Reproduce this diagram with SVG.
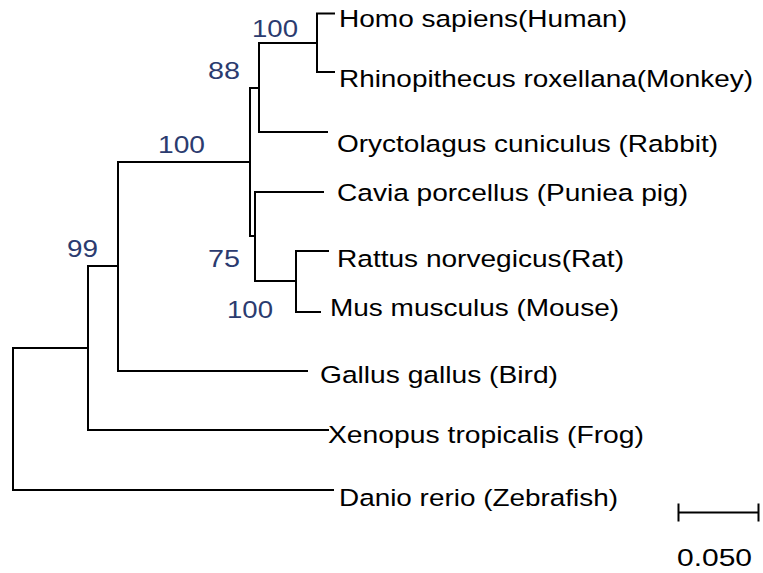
<svg xmlns="http://www.w3.org/2000/svg" width="763" height="573" viewBox="0 0 763 573">
<style>
.edge{fill:none;stroke:#000;stroke-width:2;stroke-linecap:square}
.lbl{font-family:"Liberation Sans",Arial,sans-serif;font-size:24.5px;fill:#000}
.bs{font-family:"Liberation Sans",Arial,sans-serif;font-size:23.5px;fill:#2b3b6f}
</style>
<rect width="763" height="573" fill="#fff"/>
<g id="connectors">
<path class="edge" d="M334,13.5 H317 V72 H334"/>
<path class="edge" d="M317,43 H259"/>
<path class="edge" d="M259,43 V132 H327"/>
<path class="edge" d="M259,88 H250"/>
<path class="edge" d="M250,88 V236 H255"/>
<path class="edge" d="M323,192 H255 V281 H296"/>
<path class="edge" d="M328,251 H296 V312 H320"/>
<path class="edge" d="M250,162 H118"/>
<path class="edge" d="M118,162 V371 H307"/>
<path class="edge" d="M118,266 H88"/>
<path class="edge" d="M88,266 V430 H328"/>
<path class="edge" d="M88,348 H13"/>
<path class="edge" d="M13,348 V490 H333"/>
</g>
<g id="leaf-human"><text class="lbl" x="339" y="27" textLength="288" lengthAdjust="spacingAndGlyphs">Homo sapiens(Human)</text></g>
<g id="leaf-monkey"><text class="lbl" x="339" y="87" textLength="414" lengthAdjust="spacingAndGlyphs">Rhinopithecus roxellana(Monkey)</text></g>
<g id="leaf-rabbit"><text class="lbl" x="337" y="152" textLength="381" lengthAdjust="spacingAndGlyphs">Oryctolagus cuniculus (Rabbit)</text></g>
<g id="leaf-pig"><text class="lbl" x="337" y="201" textLength="351" lengthAdjust="spacingAndGlyphs">Cavia porcellus (Puniea pig)</text></g>
<g id="leaf-rat"><text class="lbl" x="337" y="267" textLength="287" lengthAdjust="spacingAndGlyphs">Rattus norvegicus(Rat)</text></g>
<g id="leaf-mouse"><text class="lbl" x="330" y="316" textLength="289" lengthAdjust="spacingAndGlyphs">Mus musculus (Mouse)</text></g>
<g id="leaf-bird"><text class="lbl" x="320" y="383" textLength="238" lengthAdjust="spacingAndGlyphs">Gallus gallus (Bird)</text></g>
<g id="leaf-frog"><text class="lbl" x="328" y="443" textLength="316" lengthAdjust="spacingAndGlyphs">Xenopus tropicalis (Frog)</text></g>
<g id="leaf-zebrafish"><text class="lbl" x="339" y="506" textLength="279" lengthAdjust="spacingAndGlyphs">Danio rerio (Zebrafish)</text></g>
<g id="node-primates"><text class="bs" x="252" y="37" textLength="46" lengthAdjust="spacingAndGlyphs">100</text></g>
<g id="node-88"><text class="bs" x="208" y="79" textLength="32" lengthAdjust="spacingAndGlyphs">88</text></g>
<g id="node-mammals"><text class="bs" x="158" y="153" textLength="47" lengthAdjust="spacingAndGlyphs">100</text></g>
<g id="node-amniotes"><text class="bs" x="67" y="257" textLength="31" lengthAdjust="spacingAndGlyphs">99</text></g>
<g id="node-75"><text class="bs" x="208" y="267" textLength="32" lengthAdjust="spacingAndGlyphs">75</text></g>
<g id="node-rodents"><text class="bs" x="227" y="318" textLength="46" lengthAdjust="spacingAndGlyphs">100</text></g>
<g id="scale-bar">
<path class="edge" d="M678.5,512.5 H758.5 M678.5,503.5 V521.5 M758.5,503.5 V521.5" style="stroke-linecap:butt"/>
<text class="lbl" x="677" y="566" textLength="75" lengthAdjust="spacingAndGlyphs">0.050</text>
</g>
</svg>
